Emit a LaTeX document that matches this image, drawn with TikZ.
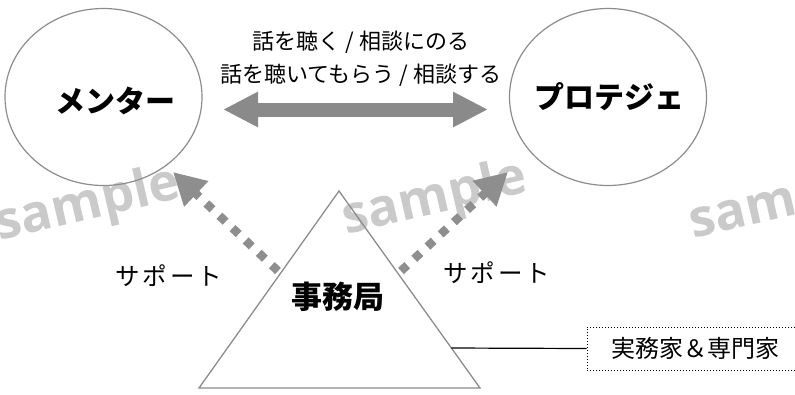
\documentclass[tikz,border=0pt]{standalone}
\usepackage{fontspec}
\setmainfont{Noto Sans CJK JP}
\newfontfamily\wmfont{Open Sans}
\usetikzlibrary{arrows.meta,calc,shapes.geometric}
\definecolor{linegray}{HTML}{8C8C8C}
\definecolor{arrowgray}{HTML}{8A8A8A}
\definecolor{dotgray}{HTML}{8E8E8E}
\definecolor{wmgray}{HTML}{CACACA}
\begin{document}
\begin{tikzpicture}[x=1pt,y=-1pt,
  bubble/.style={ellipse, draw=linegray, line width=1.2pt, minimum width=197pt, minimum height=177pt, inner sep=0pt},
  title/.style={font=\fontsize{30}{36}\selectfont\bfseries, inner sep=0pt},
  body/.style={font=\fontsize{22}{33}\selectfont, inner sep=0pt},
  support/.style={font=\fontsize{24.5}{28}\selectfont, inner sep=0pt},
  supportarrow/.style={draw=dotgray, line width=8.5pt, dash pattern=on 8.5pt off 9.5pt, -{Triangle[length=32pt,width=33pt]}},
  watermark/.style={font=\wmfont\bfseries\fontsize{52}{52}\selectfont, text=wmgray, rotate=13, inner sep=0pt}
]
\useasboundingbox (0,0) rectangle (795,394);
\clip (0,0) rectangle (795,394);
% watermarks
\node[watermark] (wm1) at (88,206) {sample};
\node[watermark] (wm2) at (435,200) {sample};
\node[watermark] (wm3) at (782,204) {sample};
% people
\node[bubble] (mentor) at (103.5,97) {};
\node[title] (mentorlbl) at (115,101) {メンター};
\node[bubble] (protege) at (608,97) {};
\node[title] (protegelbl) at (609,97) {プロテジェ};
% relationship
\node[body, align=center] (talk) at (361,59) {話を聴く / 相談にのる\\話を聴いてもらう / 相談する};
\coordinate (la) at (223,109.5);
\coordinate (ra) at (488,109.5);
\draw[arrowgray, line width=14pt, {Triangle[length=35pt,width=33pt]}-{Triangle[length=35pt,width=33pt]}] (la) -- (ra);
% office triangle
\coordinate (apex) at (339,191);
\coordinate (bl) at (199,388);
\coordinate (br) at (480,388);
\draw[linegray, line width=1.3pt] (apex) -- (br) -- (bl) -- cycle;
\node[title, font=\fontsize{31}{36}\selectfont\bfseries] (office) at (338,297) {事務局};
% support arrows
\coordinate (ls) at (278,271);
\coordinate (lt) at (173,172);
\draw[supportarrow] (ls) -- (lt);
\coordinate (rs) at (401,271);
\coordinate (rt) at (508,172);
\draw[supportarrow] (rs) -- (rt);
\node[support] (supl) at (169,276) {サ\kern3ptポ\kern3ptー\kern3ptト};
\node[support] (supr) at (497,273) {サ\kern3ptポ\kern3ptー\kern3ptト};
% staff box
\node[draw, dotted, line width=1pt, minimum width=216pt, minimum height=43pt, font=\fontsize{24}{28}\selectfont, inner sep=0pt] (staff) at (695,348.5) {実務家＆専門家};
\coordinate (trir) at ($(apex)!0.797!(br)$);
\draw[black, line width=1.2pt] (trir) -- (staff.west);
\end{tikzpicture}
\end{document}
